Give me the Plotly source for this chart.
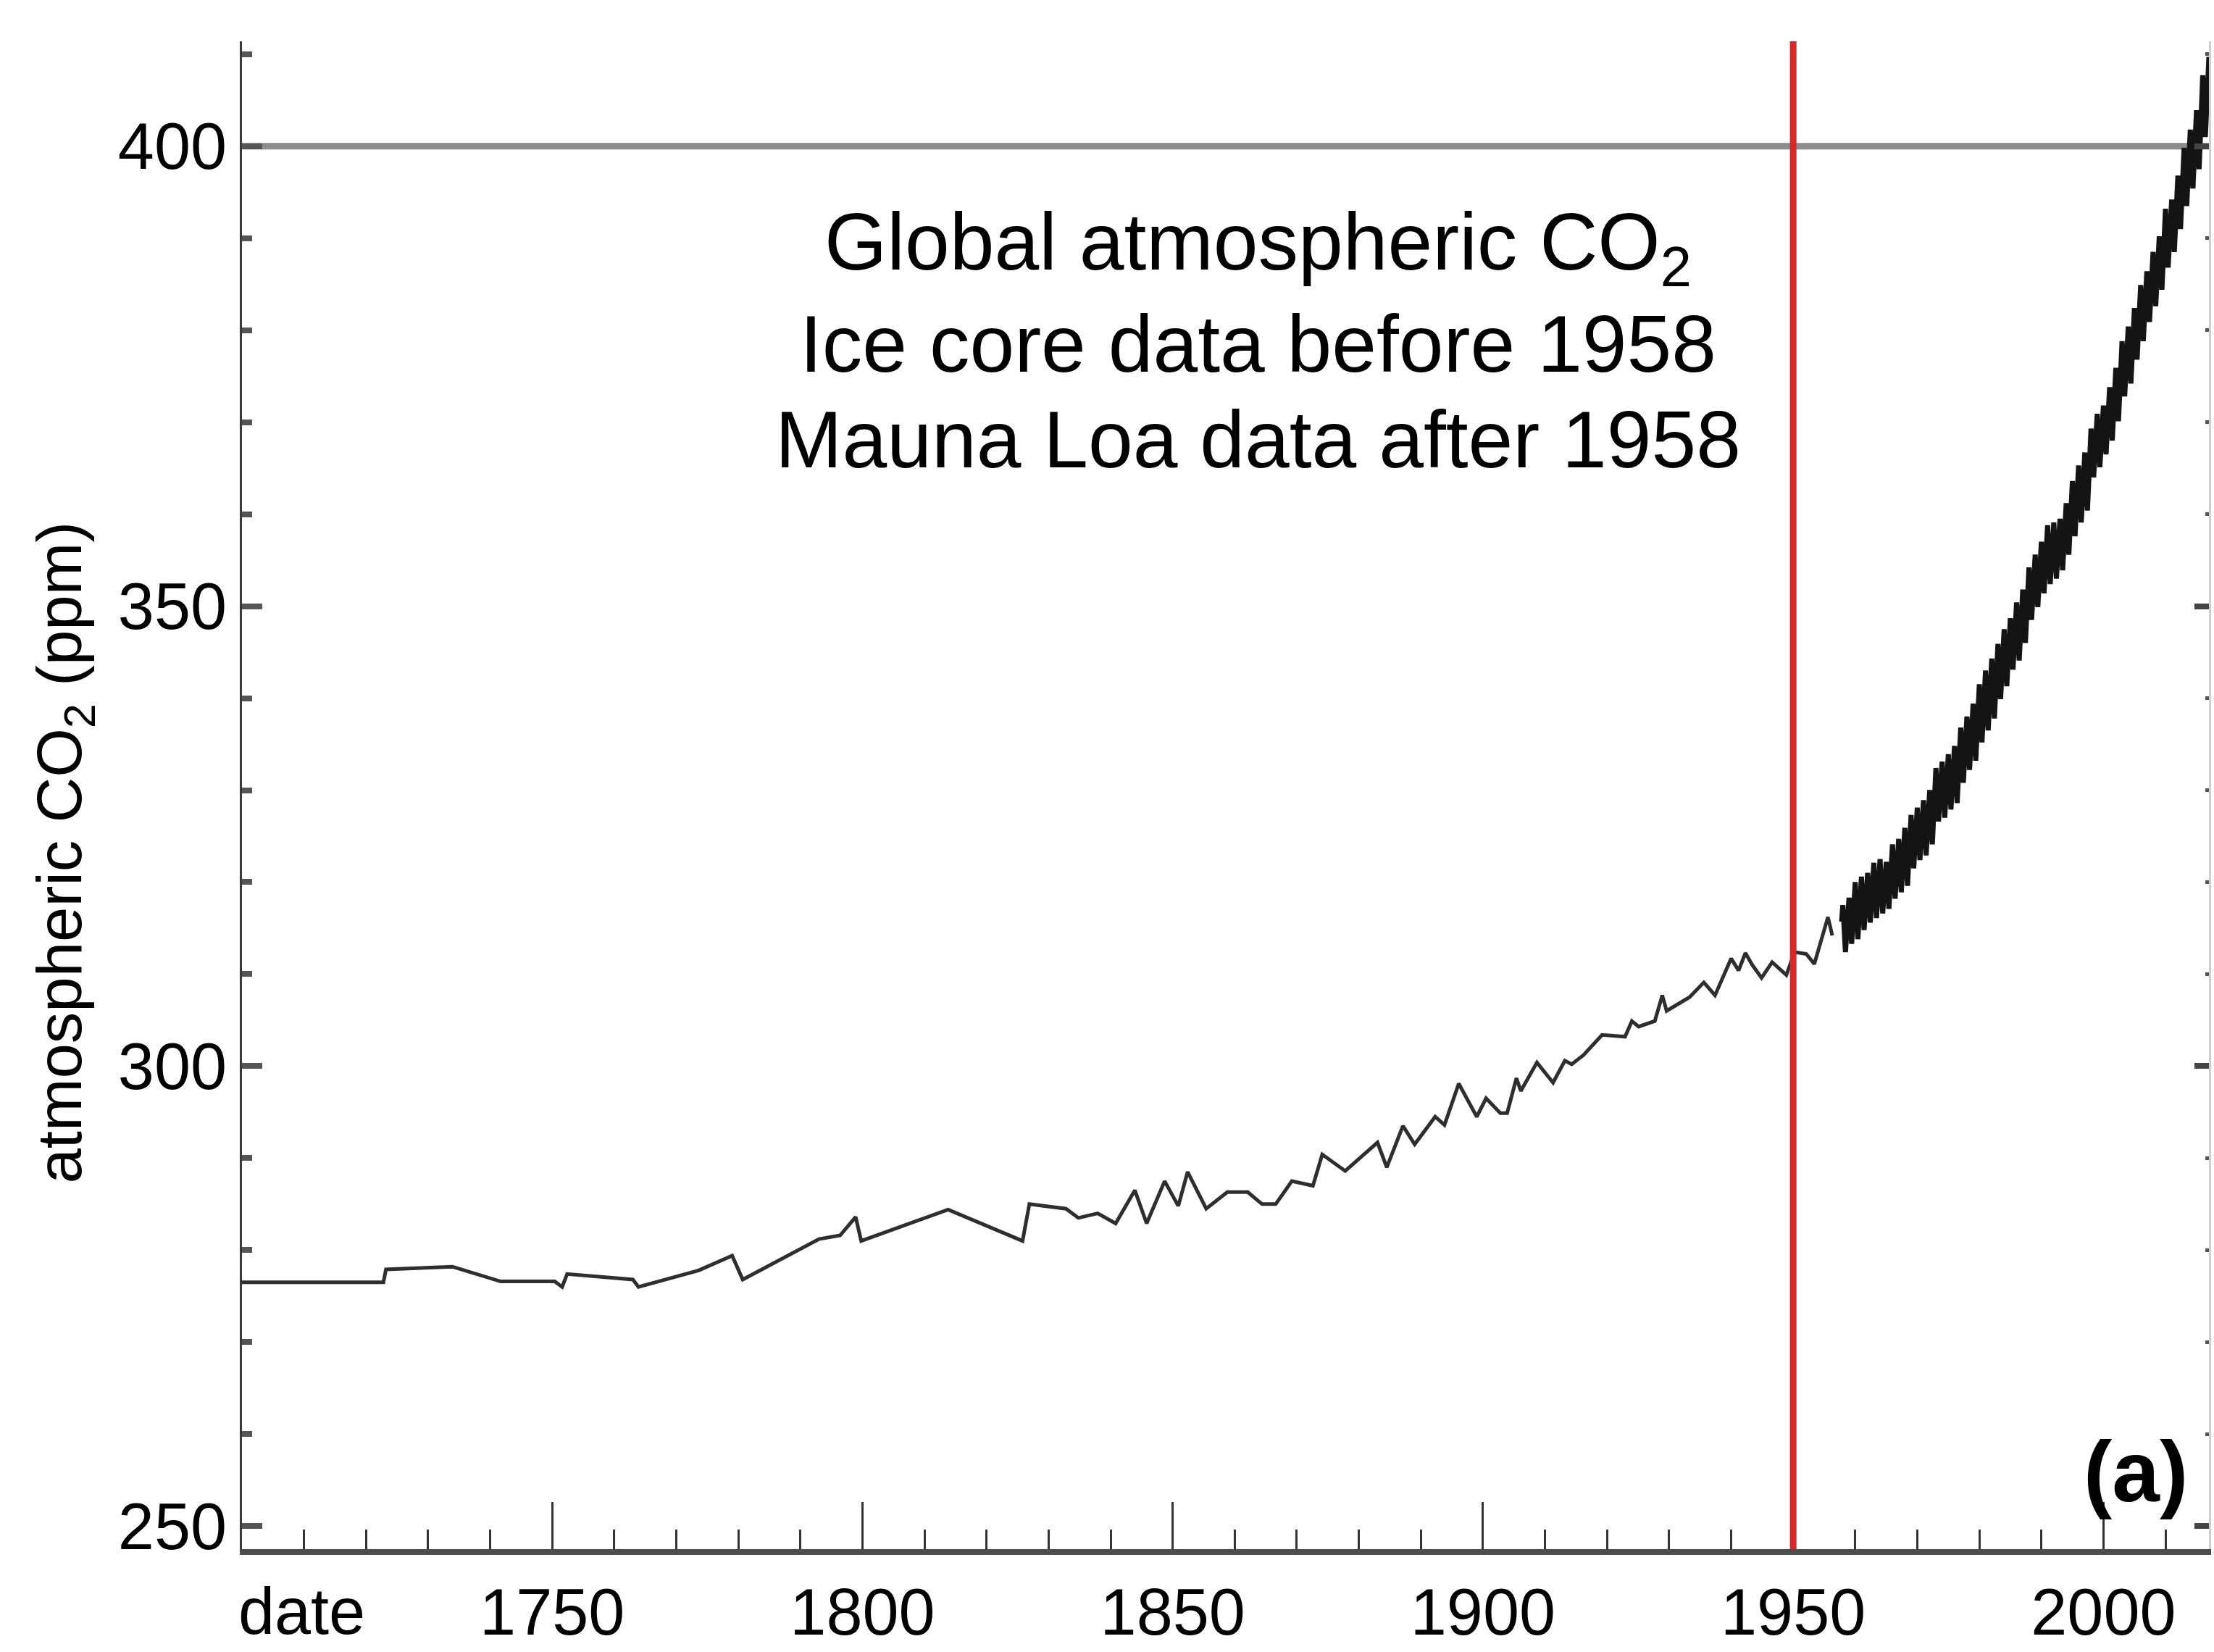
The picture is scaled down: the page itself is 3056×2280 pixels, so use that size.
import plotly.graph_objects as go

# Ice-core record (Law Dome), year and CO2 in ppm
ice_year = [1700.0, 1722.8, 1723.2, 1733.9, 1741.7, 1750.4, 1751.6, 1752.4, 1763.0, 1763.9,
            1773.6, 1779.0, 1780.7, 1793.0, 1796.4, 1798.9, 1799.8, 1813.8, 1825.8, 1826.9,
            1832.8, 1834.8, 1837.9, 1840.8, 1843.9, 1845.8, 1848.7, 1850.9, 1852.4, 1855.4,
            1858.8, 1862.1, 1864.4, 1866.6, 1869.2, 1872.6, 1874.1, 1877.8, 1883.0, 1884.5,
            1887.1, 1889.0, 1892.3, 1893.8, 1896.1, 1899.0, 1900.5, 1902.8, 1903.9, 1905.4,
            1906.1, 1908.7, 1911.3, 1913.2, 1914.3, 1916.2, 1919.2, 1922.9, 1924.0, 1925.1,
            1927.7, 1928.9, 1929.6, 1933.3, 1935.6, 1937.4, 1940.0, 1941.2, 1942.3, 1943.4,
            1944.9, 1946.6, 1948.9, 1950.2, 1952.1, 1953.4, 1955.6, 1956.3]
ice_co2 = [276.5, 276.5, 277.9, 278.2, 276.6, 276.6, 276.0, 277.4, 276.8, 276.0,
           277.8, 279.4, 276.8, 281.2, 281.6, 283.6, 281.0, 284.4, 281.0, 285.0,
           284.5, 283.5, 284.0, 282.9, 286.5, 282.9, 287.5, 284.8, 288.5, 284.5,
           286.3, 286.3, 285.0, 285.0, 287.5, 287.0, 290.4, 288.6, 291.7, 289.0,
           293.5, 291.5, 294.5, 293.6, 298.1, 294.5, 296.5, 294.9, 294.9, 298.7,
           297.3, 300.4, 298.2, 300.6, 300.2, 301.2, 303.4, 303.2, 304.9, 304.3,
           304.9, 307.7, 306.0, 307.5, 309.1, 307.7, 311.7, 310.4, 312.3, 311.0,
           309.6, 311.3, 309.9, 312.4, 312.2, 311.1, 316.2, 314.2]

# Mauna Loa record: first reading, then the spring maximum and autumn minimum of each year
ml_first = (1957.8, 315.7)
ml_year = list(range(1958, 2018))
ml_peak = [317.5, 318.3, 320.0, 320.6, 321.0, 322.1, 322.5, 322.2, 324.1, 324.7,
           325.9, 327.3, 328.1, 328.9, 330.0, 332.4, 333.1, 333.9, 334.8, 336.8,
           338.0, 339.4, 341.5, 343.0, 344.3, 345.9, 347.5, 348.7, 350.4, 351.8,
           354.2, 355.6, 357.0, 358.8, 359.1, 359.5, 361.2, 363.6, 365.3, 366.7,
           369.3, 370.9, 371.8, 373.8, 375.9, 378.8, 380.4, 382.4, 384.9, 386.4,
           388.5, 390.2, 393.2, 394.2, 396.8, 399.8, 401.8, 403.9, 407.7, 409.7]
ml_trough = [312.4, 313.3, 313.8, 314.8, 315.6, 316.1, 316.6, 317.1, 318.2, 318.9,
             319.6, 321.5, 322.4, 322.9, 324.1, 326.6, 327.0, 327.9, 328.6, 330.8,
             332.2, 333.2, 335.2, 336.5, 337.8, 339.9, 341.3, 343.1, 344.1, 346.0,
             348.5, 349.9, 351.4, 352.4, 353.0, 353.9, 355.6, 357.6, 359.1, 360.4,
             364.0, 365.1, 366.5, 368.0, 370.1, 372.8, 374.2, 376.8, 378.8, 380.9,
             382.6, 384.4, 386.8, 388.5, 391.0, 393.5, 395.4, 397.5, 401.0, 403.4]

# Axis ticks
x_major = [1750, 1800, 1850, 1900, 1950, 2000]
y_major = [250, 300, 350, 400]
x_range = [1700, 2017.0]
y_range = [247.5, 411.4]

FONT = "Liberation Sans, Arial, sans-serif"

# Interleave the seasonal extremes into one time series
ml_x = [ml_first[0]]
ml_y = [ml_first[1]]
for yr, hi, lo in zip(ml_year, ml_peak, ml_trough):
    ml_x += [yr + 0.0, yr + 0.42]
    ml_y += [hi, lo]

fig = go.Figure()

fig.add_trace(go.Scatter(x=ice_year, y=ice_co2, mode="lines",
                         line=dict(color="#2e2e2e", width=5),
                         showlegend=False, hoverinfo="skip"))
fig.add_trace(go.Scatter(x=ml_x, y=ml_y, mode="lines",
                         line=dict(color="#141414", width=7),
                         showlegend=False, hoverinfo="skip"))
# carries the right-hand axis
fig.add_trace(go.Scatter(x=[None], y=[None], yaxis="y2", mode="lines",
                         showlegend=False, hoverinfo="skip"))

# 400 ppm reference line and the 1950 marker
fig.add_shape(type="line", xref="paper", x0=0, x1=1, yref="y", y0=400, y1=400,
              line=dict(color="#8c8c8c", width=9), layer="below")
fig.add_shape(type="line", xref="x", x0=1950, x1=1950, yref="paper", y0=0, y1=1,
              line=dict(color="#d62a2a", width=9), layer="above")

fig.update_layout(
    width=3056, height=2280, autosize=False,
    paper_bgcolor="white", plot_bgcolor="white",
    margin=dict(l=334, r=7, t=57, b=142, pad=0, autoexpand=False),
    font=dict(family=FONT, color="black"),
    xaxis=dict(range=x_range, tickmode="array", tickvals=x_major,
               ticktext=[str(v) for v in x_major], automargin=False,
               ticks="inside", ticklen=65, tickwidth=3, tickcolor="#333333",
               minor=dict(dtick=10, tick0=1700, ticks="inside", ticklen=27,
                          tickwidth=3, tickcolor="#333333"),
               showline=True, linecolor="#4d4d4d", linewidth=8,
               showgrid=False, zeroline=False,
               tickfont=dict(size=90, family=FONT, color="black"),
               ticklabelstandoff=2),
    yaxis=dict(range=y_range, tickmode="array", tickvals=y_major,
               ticktext=[str(v) for v in y_major], automargin=False,
               ticks="inside", ticklen=28, tickwidth=8, tickcolor="#555555",
               minor=dict(dtick=10, tick0=0, ticks="inside", ticklen=14,
                          tickwidth=8, tickcolor="#555555"),
               showline=True, linecolor="#3a3a3a", linewidth=3,
               showgrid=False, zeroline=False,
               tickfont=dict(size=90, family=FONT, color="black"),
               ticklabelstandoff=0),
    yaxis2=dict(range=y_range, overlaying="y", side="right", anchor="x",
                automargin=False,
                tickmode="array", tickvals=y_major, showticklabels=False,
                ticks="inside", ticklen=20, tickwidth=8, tickcolor="#444444",
                minor=dict(dtick=10, tick0=0, ticks="inside", ticklen=5,
                           tickwidth=5, tickcolor="#555555"),
                showline=True, linecolor="#cfcfcf", linewidth=3,
                showgrid=False, zeroline=False),
)

ann_font = dict(family=FONT, size=111, color="black")
for text, yv in [("Global atmospheric CO<sub>2</sub>", 389.0),
                 ("Ice core data before 1958", 378.5),
                 ("Mauna Loa data after 1958", 368.1)]:
    fig.add_annotation(x=1863.7, y=yv, xref="x", yref="y", text=text,
                       showarrow=False, xanchor="center", yanchor="middle",
                       font=ann_font)

fig.add_annotation(x=2005.2, y=255.9, xref="x", yref="y", text="<b>(a)</b>",
                   showarrow=False, xanchor="center", yanchor="middle",
                   font=dict(family=FONT, size=118, color="black"))

fig.add_annotation(x=1700, y=-0.0413, xref="x", yref="paper", text="date",
                   showarrow=False, xanchor="left", yanchor="middle", xshift=-7,
                   font=dict(family=FONT, size=90, color="black"))

fig.add_annotation(x=-0.0906, y=0.462, xref="paper", yref="paper",
                   text="atmospheric CO<sub>2</sub> (ppm)", textangle=-90,
                   showarrow=False, xanchor="center", yanchor="middle",
                   font=dict(family=FONT, size=87, color="black"))

fig.write_html("out.html", config={"displayModeBar": False})
